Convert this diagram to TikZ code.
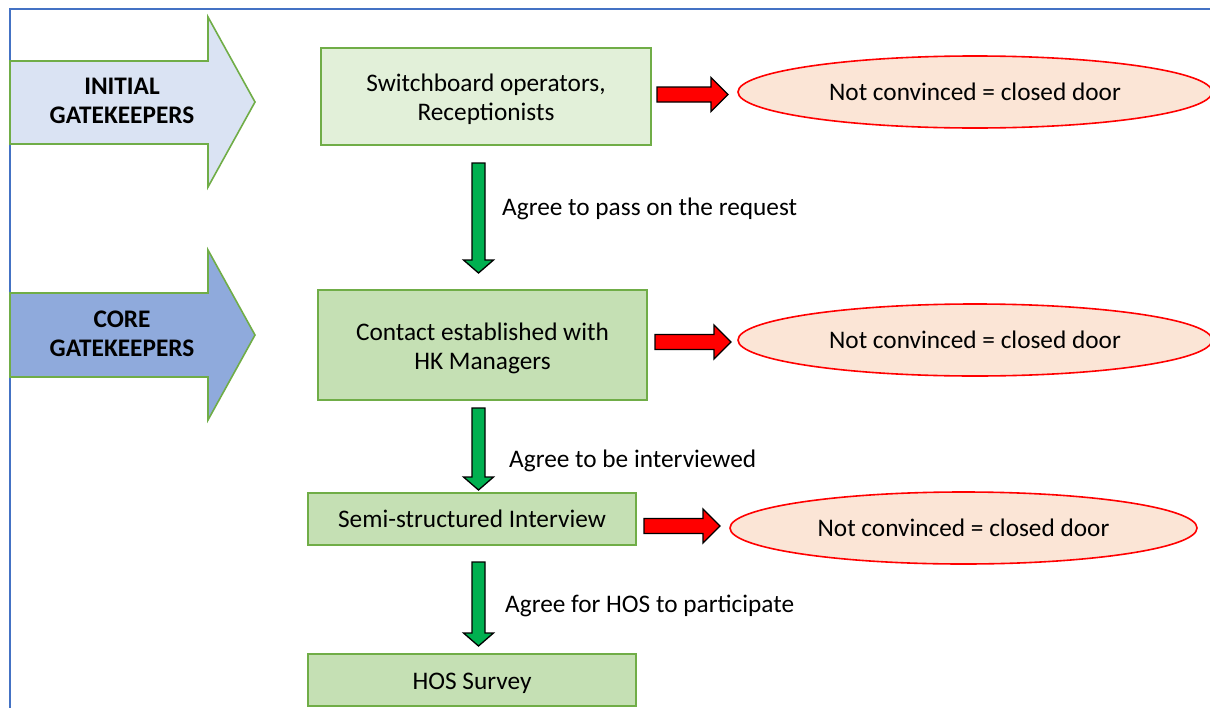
\documentclass[tikz,border=0pt]{standalone}
\usepackage{fontspec}
\setmainfont{Carlito}
\usetikzlibrary{calc,shapes.geometric}
\definecolor{frameblue}{HTML}{4472C4}
\definecolor{boxgreen}{HTML}{70AD47}
\definecolor{palegreen}{HTML}{E2F0D9}
\definecolor{midgreen}{HTML}{C5E0B4}
\definecolor{lightblue}{HTML}{DAE3F3}
\definecolor{coreblue}{HTML}{8FAADC}
\definecolor{peach}{HTML}{FBE5D6}
\definecolor{okgreen}{HTML}{00B050}
\tikzset{
  txt/.style={font=\fontsize{25.3}{29}\selectfont, align=center, text=black},
  stepbox/.style={draw=boxgreen, line width=1.6pt, fill=midgreen, inner sep=0pt},
  steplabel/.style={label={[txt, yshift=-3pt]center:{#1}}},
  gate/.style={draw=boxgreen, line width=1.6pt},
  gatetext/.style={txt, font=\bfseries\fontsize{25.3}{28.5}\selectfont},
  doorshape/.style={ellipse, draw=red, line width=1.6pt, fill=peach, inner sep=0pt},
  noarrow/.style={draw=black, line width=1.3pt, fill=red},
  yesarrow/.style={draw=black, line width=1.3pt, fill=okgreen},
  lbl/.style={font=\fontsize{25.3}{29}\selectfont, anchor=west, inner sep=0pt}
}
% red block arrow pointing right: start x, mid y, end x
\newcommand{\rejectarrow}[3]{%
  \draw[noarrow] (#1,#2-7.5) -- (#3-17,#2-7.5) -- (#3-17,#2-17) -- (#3,#2)
    -- (#3-17,#2+17) -- (#3-17,#2+7.5) -- (#1,#2+7.5) -- cycle;}
% green block arrow pointing down: mid x, top y, tip y
\newcommand{\passarrow}[3]{%
  \draw[yesarrow] (#1-6.5,#2) -- (#1+6.5,#2) -- (#1+6.5,#3-13) -- (#1+15,#3-13)
    -- (#1,#3) -- (#1-15,#3-13) -- (#1-6.5,#3-13) -- cycle;}
\begin{document}
\begin{tikzpicture}[x=1pt,y=-1pt]
\useasboundingbox (0,0) rectangle (1210,707);
\begin{scope}
\clip (0,0) rectangle (1210,707);

% outer frame (left and top edges)
\draw[frameblue, line width=1.6pt] (10,720) -- (10,9) -- (1220,9);

% gatekeeper arrows
\draw[gate, fill=lightblue] (10,61) -- (208,61) -- (208,17) -- (255,102)
  -- (208,187) -- (208,144) -- (10,144) -- cycle;
\node[gatetext] (initial) at (122,101) {INITIAL\\GATEKEEPERS};
\draw[gate, fill=coreblue] (10,293) -- (208,293) -- (208,250) -- (255,335)
  -- (208,420) -- (208,377) -- (10,377) -- cycle;
\node[gatetext] (core) at (122,334) {CORE\\GATEKEEPERS};

% process steps
\node[stepbox, fill=palegreen, minimum width=330pt, minimum height=97pt,
  steplabel={Switchboard operators,\\Receptionists}] (switch) at (486,96.5) {};
\node[stepbox, minimum width=329pt, minimum height=110pt,
  steplabel={Contact established with\\HK Managers}] (contact) at (482.5,345) {};
\node[stepbox, minimum width=328pt, minimum height=52pt, txt]
  (interview) at (472,519) {Semi-structured Interview};
\node[stepbox, minimum width=328pt, minimum height=52pt,
  steplabel={HOS Survey}] (survey) at (472,680) {};

% closed doors
\node[doorshape, minimum width=474pt, minimum height=72pt, txt]
  (door1) at (975,92) {Not convinced = closed door};
\node[doorshape, minimum width=474pt, minimum height=72pt, txt]
  (door2) at (975,340) {Not convinced = closed door};
\node[doorshape, minimum width=467pt, minimum height=72pt, txt]
  (door3) at (963.5,528) {Not convinced = closed door};

% rejections
\rejectarrow{657}{94.5}{728}
\rejectarrow{655}{342}{731}
\rejectarrow{644}{526}{720}

% agreements
\passarrow{478.5}{163}{273}
\node[lbl] (l1) at (502,209) {Agree to pass on the request};
\passarrow{478.5}{408}{490}
\node[lbl] (l2) at (509,461) {Agree to be interviewed};
\passarrow{478.5}{562}{646}
\node[lbl] (l3) at (505,606) {Agree for HOS to participate};
\end{scope}
\end{tikzpicture}
\end{document}
